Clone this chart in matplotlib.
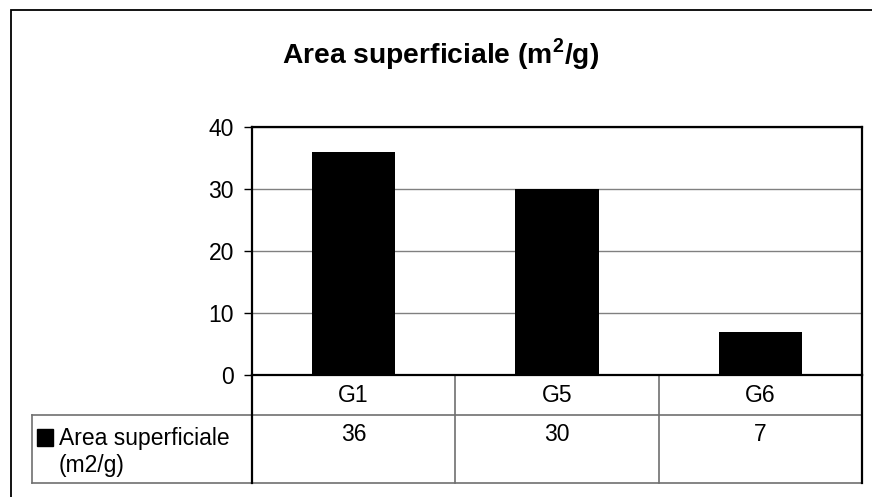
import numpy as np
import matplotlib
matplotlib.use('Agg')
import matplotlib.pyplot as plt
from matplotlib.patches import Rectangle
from matplotlib.lines import Line2D

plt.rcParams['font.family'] = ['Liberation Sans', 'DejaVu Sans']
plt.rcParams['mathtext.fontset'] = 'custom'
plt.rcParams['mathtext.rm'] = 'Liberation Sans:bold'
plt.rcParams['mathtext.bf'] = 'Liberation Sans:bold'

# Dati
campioni = ['G1', 'G5', 'G6']
area = [36, 30, 7]
serie = 'Area superficiale\n(m2/g)'
yticks = [0, 10, 20, 30, 40]

W, H = 872, 497
fig = plt.figure(figsize=(W / 100, H / 100), dpi=100)

# cornice esterna (solo bordo sinistro e superiore visibili)
fig.patches.append(Rectangle((11 / W, -0.2), 1.2, 1.2 - 9.5 / H,
                             transform=fig.transFigure, fill=False,
                             edgecolor='black', linewidth=1.3))

# titolo
fig.text(441 / W, 1 - 54 / H, 'Area superficiale (m$^2$/g)', fontsize=20.3,
         fontweight='bold', ha='center', va='center')

# area del grafico
x0, x1 = 252, 862
y0, y1 = 127, 375
ax = fig.add_axes([x0 / W, 1 - y1 / H, (x1 - x0) / W, (y1 - y0) / H])
ax.bar(np.arange(len(campioni)), area, width=0.41, color='black', zorder=3)
ax.set_xlim(-0.5, len(campioni) - 0.5)
ax.set_ylim(0, 40)
ax.set_yticks(yticks)
ax.yaxis.grid(True, color='#808080', linewidth=1.0)
ax.set_axisbelow(True)
for s in ax.spines.values():
    s.set_linewidth(1.6)
    s.set_color('black')
ax.tick_params(axis='y', direction='out', length=6, width=1, pad=7,
               labelsize=16.5, colors='black')
ax.tick_params(axis='x', bottom=False, labelbottom=False)

# tabella dati sotto il grafico
ph = y1 - y0
def ya(py):
    return (y1 - py) / ph

tr = ax.get_xaxis_transform()
grey = '#707070'
y_head = ya(415)
y_bot = ya(483)
x_left = (32 - x0) / (x1 - x0)

# linee orizzontali
for yy in [y_head, y_bot]:
    ax.add_line(Line2D([x_left, 1], [yy, yy], transform=ax.transAxes,
                       color=grey, linewidth=1.2, clip_on=False))
# linee verticali
for xx in np.arange(len(campioni) + 1) - 0.5:
    bordo = xx in (-0.5, len(campioni) - 0.5)
    ax.add_line(Line2D([xx, xx], [0, y_bot], transform=tr,
                       color='black' if bordo else grey,
                       linewidth=1.6 if bordo else 1.2, clip_on=False))
ax.add_line(Line2D([x_left, x_left], [y_head, y_bot], transform=ax.transAxes,
                   color=grey, linewidth=1.2, clip_on=False))

for i, (c, v) in enumerate(zip(campioni, area)):
    ax.text(i, ya(395), c, transform=tr, ha='center', va='center', fontsize=16.5)
    ax.text(i, ya(435), str(v), transform=tr, ha='center', va='center', fontsize=16.5)

# chiave della legenda nella tabella
kx0 = (37 - x0) / (x1 - x0)
kw = 16 / (x1 - x0)
ax.add_patch(Rectangle((kx0, ya(446)), kw, 17 / ph, transform=ax.transAxes,
                       facecolor='black', edgecolor='black', clip_on=False))
ax.text((59 - x0) / (x1 - x0), ya(452), serie, transform=ax.transAxes,
        ha='left', va='center', fontsize=16.5, linespacing=1.2)

fig.savefig('out.png', dpi=100)
